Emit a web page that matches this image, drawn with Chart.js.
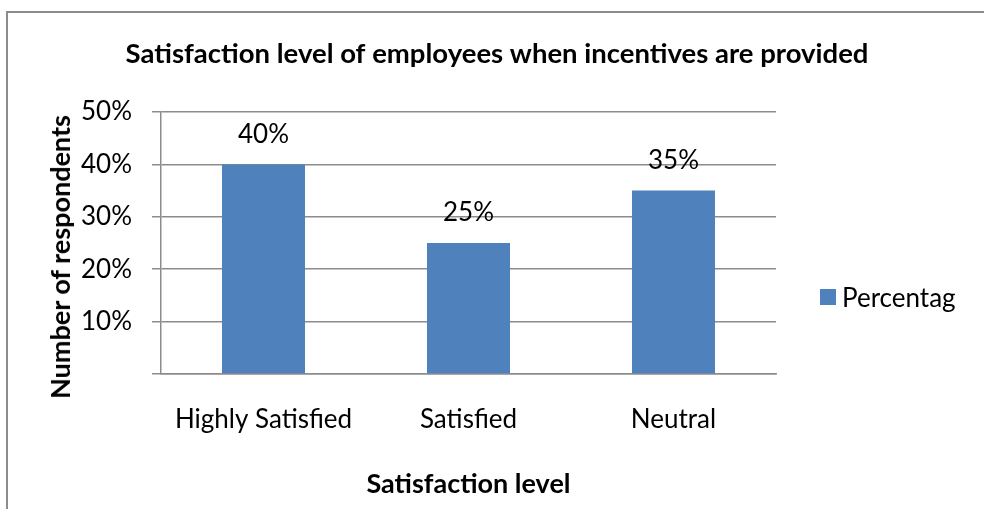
<!DOCTYPE html>
<html>
<head>
<meta charset="utf-8">
<script src="https://cdn.jsdelivr.net/npm/chart.js@4.4.1/dist/chart.umd.min.js"></script>
<style>
  html, body { margin: 0; padding: 0; background: #fff; }
  #wrap { position: relative; width: 984px; height: 509px; overflow: hidden; }
  #frame { position: absolute; left: 6px; top: 11px; width: 1000px; height: 600px;
           border: 2px solid #8c8c8c; box-sizing: border-box; }
  canvas { position: absolute; left: 0; top: 0; }
  #legend { position: absolute; left: 820px; top: 282px; height: 30px; display: flex;
            align-items: center; font: 26px Lato, sans-serif; color: #000; line-height: 30px; }
  #legend .swatch { width: 16px; height: 16px; margin-right: 6px; }
  #ytitle { position: absolute; left: 60px; top: 257px; white-space: nowrap;
            font: bold 27px Lato, sans-serif; color: #000; line-height: 32px;
            transform: translate(-50%, -50%) rotate(-90deg); }
</style>
</head>
<body>
<div id="wrap">
  <div id="frame"></div>
  <canvas id="chart" width="984" height="509"></canvas>
  <div id="ytitle"></div>
  <div id="legend"></div>
</div>
<script>
// Survey results
const categories = ['Highly Satisfied', 'Satisfied', 'Neutral'];
const percentages = [40, 25, 35];
const seriesName = 'Percentag';
const barColor = '#4F81BD';
const yMin = 0;
const yMax = 50;
const yStep = 10;

const chartTitle = 'Satisfaction level of employees when incentives are provided';
const xTitle = 'Satisfaction level';
const yTitle = 'Number of respondents';

const FONT = 'Lato';
const gridColor = '#8c8c8c';

// Percent labels above each bar
const valueLabels = {
  id: 'valueLabels',
  afterDatasetsDraw(chart) {
    const ctx = chart.ctx;
    const ds = chart.data.datasets[0];
    const meta = chart.getDatasetMeta(0);
    ctx.save();
    ctx.font = '26px ' + FONT;
    ctx.fillStyle = '#000';
    ctx.textAlign = 'center';
    ctx.textBaseline = 'middle';
    meta.data.forEach((bar, i) => {
      ctx.fillText(ds.data[i] + '%', bar.x, bar.y - 30);
    });
    ctx.restore();
  }
};

function buildLegend() {
  const el = document.getElementById('legend');
  const sw = document.createElement('div');
  sw.className = 'swatch';
  sw.style.background = barColor;
  const label = document.createElement('span');
  label.textContent = seriesName;
  el.appendChild(sw);
  el.appendChild(label);
  document.getElementById('ytitle').textContent = yTitle;
}

function draw() {
  Chart.defaults.color = '#000';
  Chart.defaults.font.family = FONT;

  new Chart(document.getElementById('chart'), {
    type: 'bar',
    data: {
      labels: categories,
      datasets: [{
        label: seriesName,
        data: percentages,
        backgroundColor: barColor,
        borderWidth: 0,
        categoryPercentage: 1,
        barPercentage: 0.405
      }]
    },
    options: {
      responsive: false,
      animation: false,
      devicePixelRatio: 1,
      layout: { padding: { left: 10, right: 0, top: 0, bottom: 0 } },
      plugins: {
        legend: { display: false },
        tooltip: { enabled: false },
        title: {
          display: true,
          text: chartTitle,
          color: '#000',
          font: { family: FONT, size: 27.5, weight: 'bold' },
          padding: { top: 38, bottom: 41 }
        }
      },
      scales: {
        x: {
          grid: { display: false, drawTicks: false, tickLength: 0 },
          border: { display: true, color: gridColor, width: 1.5 },
          ticks: { font: { family: FONT, size: 26 }, padding: 30, color: '#000' },
          title: {
            display: true,
            text: xTitle,
            color: '#000',
            font: { family: FONT, size: 27, weight: 'bold' },
            padding: { top: 0, bottom: 9 }
          },
          afterFit(scale) { scale.height = 135; }
        },
        y: {
          min: yMin,
          max: yMax,
          ticks: {
            stepSize: yStep,
            padding: 20,
            color: '#000',
            font: { family: FONT, size: 26 },
            callback: (v) => (v === 0 ? '' : v + '%')
          },
          grid: { color: gridColor, lineWidth: 1.5, tickLength: 9, drawTicks: true },
          border: { display: true, color: gridColor, width: 1.5 },
          title: { display: false },
          afterFit(scale) { scale.width = 151; }
        },
        // empty right-hand strip that keeps room for the legend
        legendSpace: {
          type: 'linear',
          position: 'right',
          grid: { display: false, drawTicks: false },
          border: { display: false },
          ticks: { display: false },
          afterFit(scale) { scale.width = 208; }
        }
      }
    },
    plugins: [valueLabels]
  });
}

buildLegend();
if (document.fonts && document.fonts.load) {
  Promise.all([
    document.fonts.load('26px Lato'),
    document.fonts.load('bold 26px Lato')
  ]).then(draw, draw);
} else {
  draw();
}
</script>
</body>
</html>
